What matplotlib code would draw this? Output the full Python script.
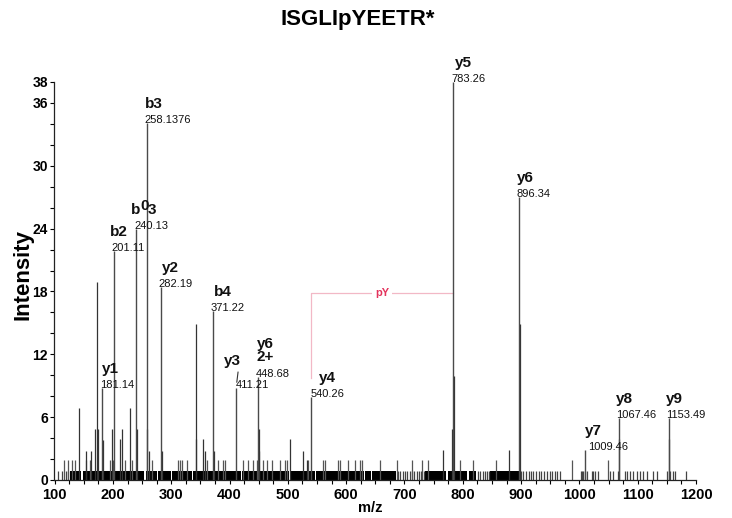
import matplotlib
matplotlib.use("Agg")
import matplotlib.pyplot as plt
import numpy as np

plt.rcParams['font.family'] = ['Liberation Sans', 'DejaVu Sans']

# ---------------------------------------------------------
# data (m/z, intensity)
# ---------------------------------------------------------
TITLE = "ISGLIpYEETR*"

# annotated fragment ions
ion_names = ["y1", "b2", "b03", "b3", "y2", "b4", "y3", "y62+",
             "y4", "y5", "y6", "y7", "y8", "y9"]
ion_mz = [181.14, 201.11, 240.13, 258.1376, 282.19, 371.22, 411.21, 448.68,
          540.26, 783.26, 896.34, 1009.46, 1067.46, 1153.49]
ion_int = [8.8, 21.9, 24.0, 34.1, 18.4, 16.1, 8.8, 9.8,
           7.9, 38.0, 27.0, 2.9, 5.9, 5.9]
ion_text = ["181.14", "201.11", "240.13", "258.1376", "282.19", "371.22",
            "411.21", "448.68", "540.26", "783.26", "896.34", "1009.46",
            "1067.46", "1153.49"]

# other (unlabelled) peaks
peak_mz = [141.5, 172.5, 169.0, 173.8, 198.0, 215.0, 229.0, 241.0, 259.0,
           183.0, 212.0, 342.0, 343.2, 354.0, 503.0, 449.8, 784.3, 782.2,
           897.3, 1068.4, 1154.4, 153.5, 162.0, 262.0, 284.0, 358.0, 372.5,
           451.0, 526.0, 766.0, 879.0, 533.0]
peak_int = [6.9, 18.9, 4.9, 4.9, 4.9, 4.9, 6.9, 4.9, 4.9,
            3.8, 3.9, 14.9, 3.9, 3.9, 3.9, 4.9, 9.9, 4.9,
            14.9, 3.9, 3.9, 2.8, 2.8, 2.8, 2.8, 2.8, 2.8,
            2.8, 2.8, 2.9, 2.9, 1.9]

# small noise peaks (~2)
noise2_mz = [116, 122, 130, 135, 154, 161, 195, 200, 221, 232, 267, 312, 315,
             319, 327, 361, 380, 389, 392, 423, 432, 440, 447, 458, 464, 473,
             486, 495, 498, 535, 560, 564, 586, 589, 603, 615, 624, 627, 658,
             687, 713, 730, 740, 795, 817, 857, 988, 1049]

# baseline noise (~1), single sticks
noise1_mz = [106, 113, 119, 123, 689, 693, 697, 701, 705, 709, 713, 717, 721,
             725, 729, 733, 826, 830, 834, 838, 842, 845, 900, 904, 908, 913,
             917, 921, 926, 931, 935, 940, 944, 949, 953, 958, 962, 967, 1002,
             1005, 1007, 1010, 1013, 1022, 1024, 1027, 1032, 1052, 1057, 1066,
             1078, 1081, 1087, 1092, 1099, 1104, 1109, 1116, 1126, 1133, 1150,
             1155, 1160, 1164, 1183]

# baseline noise (~1), solid stretches (start, end)
band_start = [126, 148, 256, 277, 302, 338, 422, 504, 548, 633, 645, 736,
              774, 785, 810, 847]
band_end = [146, 254, 275, 300, 336, 420, 502, 546, 631, 643, 686, 772,
            782, 808, 823, 897]
band_level = 0.9

# phospho-tyrosine gap
py_from, py_to = 540.26, 783.26
py_low, py_level = 9.7, 17.9

y_major = [0, 6, 12, 18, 24, 30, 36, 38]
y_minor = [2, 4, 8, 10, 14, 16, 20, 22, 26, 28, 32, 34]
x_major = [100, 200, 300, 400, 500, 600, 700, 800, 900, 1000, 1100, 1200]

# ---------------------------------------------------------
# figure
# ---------------------------------------------------------
fig = plt.figure(figsize=(7.32, 5.18), dpi=100)
ax = fig.add_axes([0.0731, 0.0734, 0.8777, 0.7683])

ax.bar(band_start, band_level, width=np.array(band_end) - np.array(band_start),
       align='edge', color='black', linewidth=0, zorder=1)
ax.vlines(noise1_mz, 0, band_level, colors='#444444', linewidth=0.9, zorder=2)
ax.vlines(noise2_mz, 0, 1.9, colors='#555555', linewidth=0.9, zorder=2)
ax.vlines(peak_mz, 0, peak_int, colors='#333333', linewidth=0.9, zorder=3)
ax.vlines(ion_mz, 0, ion_int, colors='#4a4a4a', linewidth=1.0, zorder=3)

# pY bracket
pink = '#f2b8c6'
ax.plot([py_from, py_from, py_to], [py_low, py_level, py_level],
        color=pink, linewidth=0.9, zorder=2)
ax.text((py_from + py_to) / 2, py_level, "pY", color='#e3335c',
        fontsize=8, fontweight='bold', ha='center', va='center', zorder=4,
        bbox=dict(boxstyle='square,pad=0.25', fc='white', ec='none'))

# labels
num_kw = dict(textcoords='offset pixels', fontsize=8, ha='left',
              va='center', color='#111111', zorder=5)
lab_kw = dict(textcoords='offset pixels', fontsize=11, fontweight='bold',
              ha='left', va='center', color='#111111', zorder=5)
label_dx = {"y4": 8, "y5": 2, "y2": 1, "b4": 1, "y8": -3, "y9": -3,
            "b2": -4, "y7": 0, "y6": -2, "b3": -2, "y1": 0}
num_dx = {"y3": 0, "y7": 3, "y4": -1, "y8": -3, "y9": -3}

for name, mz, h, txt in zip(ion_names, ion_mz, ion_int, ion_text):
    ax.annotate(txt, (mz, h), xytext=(num_dx.get(name, -2), 3), **num_kw)
    if name == "b03":
        ax.annotate("b", (mz, h), xytext=(-5, 19), **lab_kw)
        ax.annotate("0", (mz, h), xytext=(4, 23), **lab_kw)
        ax.annotate("3", (mz, h), xytext=(11, 19), **lab_kw)
    elif name == "y62+":
        ax.annotate("y6\n2+", (mz, h), xytext=(-1, 27), linespacing=0.95,
                    **lab_kw)
    elif name == "y3":
        ax.annotate("y3", (mz, h), xytext=(-12, 27),
                    arrowprops=dict(arrowstyle='-', color='#333333', lw=0.8,
                                    relpos=(0.85, 0.0), shrinkA=1, shrinkB=4),
                    **lab_kw)
    else:
        ax.annotate(name, (mz, h), xytext=(label_dx.get(name, -1), 19),
                    **lab_kw)

# axes
ax.set_xlim(98, 1200)
ax.set_ylim(0, 38)
for s in ['top', 'right']:
    ax.spines[s].set_visible(False)
for s in ['left', 'bottom']:
    ax.spines[s].set_linewidth(0.9)
    ax.spines[s].set_color('#222222')

ax.set_yticks(y_major)
ax.set_yticks(y_minor, minor=True)
ax.set_xticks(x_major)
ax.set_xticks(np.arange(100, 1201, 25), minor=True)
ax.tick_params(axis='y', which='major', length=3, width=0.8, pad=1,
               labelsize=10)
ax.tick_params(axis='y', which='minor', length=3, width=0.8)
ax.tick_params(axis='x', which='both', length=3, width=0.8, pad=3,
               labelsize=10.5)
for lbl in ax.get_xticklabels() + ax.get_yticklabels():
    lbl.set_fontweight('bold')

fig.text(23 / 732, 1 - 275 / 518, "Intensity", rotation=90, fontsize=16,
         fontweight='bold', ha='center', va='center')
fig.text(370 / 732, 1 - 508 / 518, "m/z", fontsize=10.5, fontweight='bold',
         ha='center', va='center')
fig.text(358 / 732, 1 - 19 / 518, TITLE, fontsize=16, fontweight='bold',
         ha='center', va='center')

fig.savefig("out.png", dpi=100, facecolor='white')
